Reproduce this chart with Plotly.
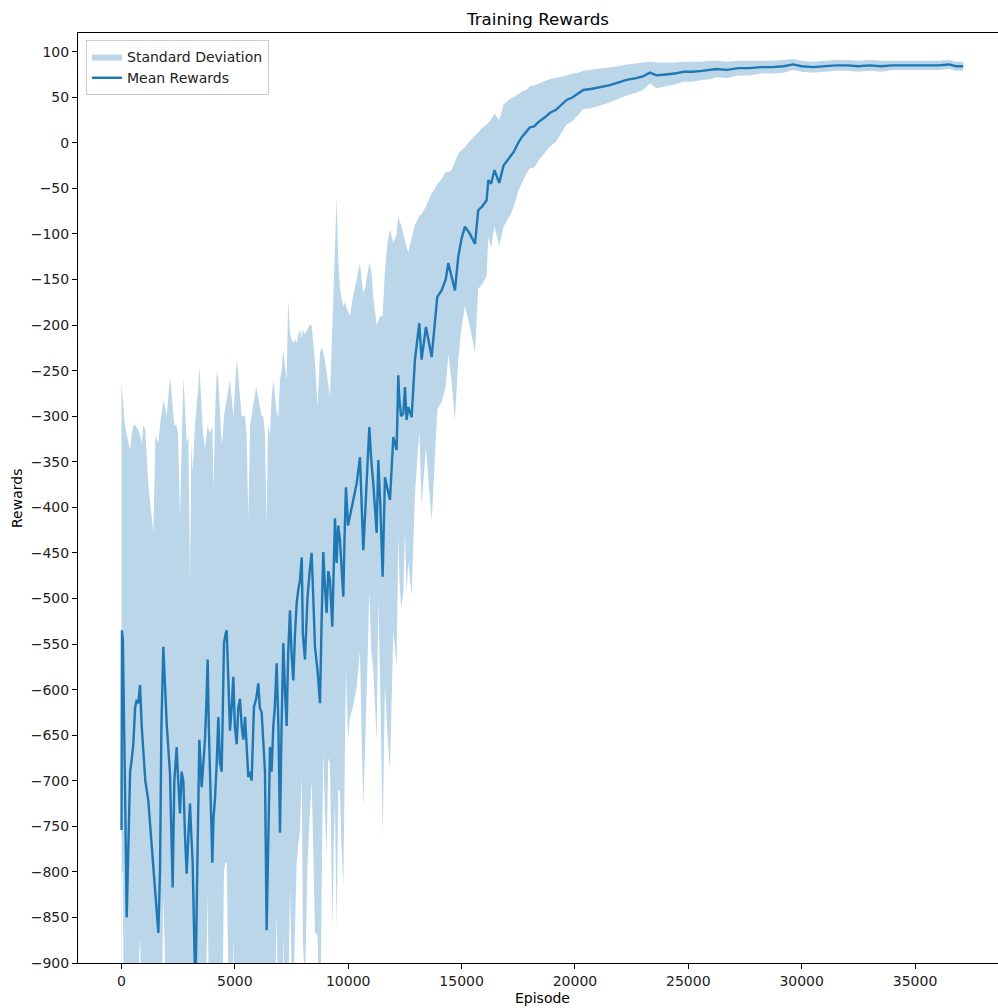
import numpy as np
import plotly.graph_objects as go

# Training curve: episode index, mean reward, and standard deviation of the reward
episodes = [
    0, 20, 60, 100, 150, 229, 300, 380, 450, 520,
    600, 670, 740, 816, 890, 963, 1050, 1183, 1300, 1404,
    1500, 1624, 1698, 1760, 1845, 1920, 1992, 2139, 2200, 2256,
    2330, 2433, 2500, 2580, 2650, 2727, 2800, 2874, 2950, 3021,
    3080, 3139, 3241, 3280, 3315, 3380, 3433, 3536, 3600, 3682,
    3750, 3800, 3850, 3903, 4006, 4060, 4123, 4200, 4270, 4340,
    4417, 4470, 4520, 4580, 4638, 4700, 4785, 4860, 4932, 5000,
    5079, 5150, 5226, 5300, 5373, 5450, 5520, 5593, 5670, 5740,
    5843, 5940, 6034, 6100, 6181, 6250, 6328, 6402, 6460, 6549,
    6620, 6696, 6760, 6843, 6920, 6990, 7060, 7137, 7210, 7284,
    7350, 7431, 7500, 7578, 7650, 7725, 7800, 7872, 7950, 8000,
    8092, 8200, 8300, 8386, 8460, 8533, 8650, 8754, 8830, 8900,
    8980, 9048, 9120, 9195, 9297, 9360, 9415, 9489, 9560, 9636,
    9700, 9783, 9840, 9900, 9990, 10077, 10200, 10371, 10518, 10590,
    10665, 10740, 10812, 10930, 11020, 11106, 11253, 11327, 11420, 11518,
    11620, 11730, 11841, 11988, 12135, 12208, 12252, 12330, 12429, 12503,
    12575, 12650, 12797, 12943, 13040, 13134, 13237, 13428, 13680, 13825,
    13928, 14121, 14300, 14414, 14550, 14707, 14854, 15000, 15149, 15369,
    15590, 15735, 15900, 16105, 16176, 16300, 16450, 16661, 16850, 17133,
    17300, 17500, 17649, 17850, 18015, 18200, 18400, 18676, 18900, 19150,
    19400, 19633, 19900, 20150, 20366, 20700, 21102, 21500, 21900, 22278,
    22700, 23000, 23307, 23600, 24000, 24400, 24776, 25200, 25600, 26000,
    26248, 26700, 27200, 27700, 28200, 28700, 29200, 29625, 30000, 30500,
    31000, 31500, 32000, 32500, 33000, 33500, 34000, 34500, 35000, 35500,
    36000, 36500, 36800, 37126,
]

mean_rewards = [
    -754, -535, -545, -640, -700, -850, -780, -690, -677, -660,
    -620, -611, -615, -595, -640, -674, -700, -722, -760, -802,
    -830, -867, -800, -640, -553, -600, -637, -692, -760, -817,
    -700, -663, -700, -736, -690, -700, -760, -802, -760, -725,
    -760, -790, -915, -905, -839, -720, -655, -707, -680, -655,
    -610, -567, -640, -690, -790, -740, -720, -680, -630, -680,
    -690, -620, -549, -540, -535, -580, -645, -620, -586, -640,
    -660, -620, -610, -640, -655, -630, -660, -696, -690, -700,
    -619, -610, -593, -620, -625, -660, -690, -864, -770, -663,
    -690, -640, -620, -571, -640, -757, -640, -549, -600, -640,
    -560, -513, -560, -590, -540, -505, -490, -480, -455, -540,
    -567, -500, -470, -450, -500, -553, -580, -615, -520, -449,
    -490, -516, -470, -480, -531, -460, -412, -461, -420, -436,
    -470, -498, -430, -378, -420, -410, -395, -374, -345, -400,
    -447, -410, -378, -312, -350, -374, -428, -348, -400, -476,
    -367, -380, -392, -323, -337, -255, -280, -300, -297, -268,
    -304, -290, -301, -238, -220, -198, -238, -202, -235, -198,
    -169, -162, -150, -132, -145, -162, -125, -105, -92, -100,
    -111, -74, -70, -63, -41, -45, -30, -44, -25, -16,
    -10, 0, 6, 12, 17, 18, 23, 28, 33, 36,
    42, 47, 50, 54, 58, 59, 61, 63, 66, 69,
    71, 73, 77, 74, 75, 76, 78, 78, 79, 80,
    81, 80, 82, 82, 83, 83, 84, 86, 84, 83,
    84, 85, 85, 84, 85, 84, 85, 85, 85, 85,
    85, 86, 84, 84,
]

std_rewards = [
    490, 265, 255, 340, 390, 530, 450, 353, 357, 350,
    310, 299, 300, 275, 310, 364, 385, 347, 360, 374,
    510, 537, 490, 340, 271, 310, 337, 435, 490, 527,
    390, 353, 380, 326, 360, 443, 470, 472, 440, 241,
    430, 430, 605, 605, 549, 450, 409, 407, 360, 320,
    290, 257, 325, 371, 480, 360, 420, 430, 370, 380,
    360, 300, 249, 250, 255, 310, 385, 340, 286, 370,
    422, 365, 335, 340, 355, 330, 340, 282, 380, 400,
    334, 342, 313, 330, 325, 360, 370, 444, 460, 343,
    410, 380, 345, 276, 340, 497, 390, 322, 355, 380,
    388, 303, 345, 370, 325, 285, 280, 275, 240, 335,
    357, 295, 270, 250, 280, 313, 290, 385, 295, 219,
    250, 266, 205, 201, 331, 310, 312, 401, 290, 276,
    300, 318, 255, 198, 235, 220, 225, 224, 213, 250,
    282, 250, 228, 180, 210, 204, 228, 153, 210, 286,
    227, 270, 297, 213, 237, 175, 195, 210, 197, 158,
    189, 170, 196, 148, 135, 118, 160, 132, 180, 148,
    124, 122, 118, 100, 115, 142, 113, 97, 87, 102,
    119, 86, 86, 83, 63, 70, 62, 69, 67, 64,
    60, 53, 50, 46, 45, 45, 42, 39, 37, 35,
    31, 27, 26, 23, 21, 21, 20, 19, 18, 17,
    16, 15, 12, 14, 13, 12, 11, 11, 10, 10,
    9, 9, 8, 8, 7, 7, 7, 6, 6, 6,
    6, 6, 6, 6, 6, 6, 5, 5, 5, 5,
    5, 5, 5, 5,
]

assert len(episodes) == len(mean_rewards) == len(std_rewards)

x_tick_values = [0, 5000, 10000, 15000, 20000, 25000, 30000, 35000]
x_tick_labels = ["0", "5000", "10000", "15000", "20000", "25000", "30000", "35000"]
y_tick_values = list(range(100, -901, -50))
y_tick_labels = [str(v).replace("-", "\u2212") for v in y_tick_values]

ep = np.array(episodes, dtype=float)
mu = np.array(mean_rewards, dtype=float)
sd = np.array(std_rewards, dtype=float)
upper = mu + sd
lower = mu - sd

BLUE = "#1f77b4"
FONT = "DejaVu Sans"

fig = go.Figure()

# Shaded band: mean +/- one standard deviation
fig.add_trace(go.Scatter(
    x=np.concatenate([ep, ep[::-1]]),
    y=np.concatenate([upper, lower[::-1]]),
    fill="toself",
    fillcolor="rgba(31,119,180,0.3)",
    line=dict(width=0, color="rgba(31,119,180,0)"),
    mode="lines",
    name="Standard Deviation",
    hoverinfo="skip",
))

# Mean reward curve
fig.add_trace(go.Scatter(
    x=ep, y=mu,
    mode="lines",
    line=dict(color=BLUE, width=2.4),
    name="Mean Rewards",
))

fig.update_layout(
    width=998, height=1008,
    margin=dict(l=78, r=0, t=33, b=45),
    paper_bgcolor="white",
    plot_bgcolor="white",
    font=dict(family=FONT, size=14, color="black"),
    showlegend=True,
    legend=dict(
        x=0.0087, y=0.9925, xanchor="left", yanchor="top",
        bgcolor="rgba(255,255,255,0.8)",
        bordercolor="#cccccc", borderwidth=1,
        font=dict(family=FONT, size=14, color="#222222"),
        tracegroupgap=0,
    ),
    title=dict(
        text="Training Rewards",
        x=0.5, xref="paper", xanchor="center",
        y=1 - 19 / 1008, yref="container", yanchor="middle",
        font=dict(family=FONT, size=16.7, color="black"),
    ),
    xaxis=dict(
        range=[-1919, 38660],
        tickmode="array", tickvals=x_tick_values, ticktext=x_tick_labels,
        ticks="outside", ticklen=5, tickwidth=1, tickcolor="black",
        showline=True, linecolor="black", linewidth=1, mirror=True,
        showgrid=False, zeroline=False,
        tickfont=dict(family=FONT, size=14, color="#222222"),
    ),
    yaxis=dict(
        range=[-900, 120.5],
        tickmode="array", tickvals=y_tick_values, ticktext=y_tick_labels,
        ticks="outside", ticklen=5, tickwidth=1, tickcolor="black",
        showline=True, linecolor="black", linewidth=1, mirror=False,
        showgrid=False, zeroline=False,
        tickfont=dict(family=FONT, size=14, color="#222222"),
    ),
    annotations=[
        dict(text="Episode", x=0.505, y=-35 / 930, xref="paper", yref="paper",
             showarrow=False, xanchor="center", yanchor="middle",
             font=dict(family=FONT, size=14, color="black")),
        dict(text="Rewards", x=-61 / 920, y=0.5, xref="paper", yref="paper",
             showarrow=False, xanchor="center", yanchor="middle", textangle=-90,
             font=dict(family=FONT, size=14, color="black")),
    ],
)

fig.write_html("out.html")
